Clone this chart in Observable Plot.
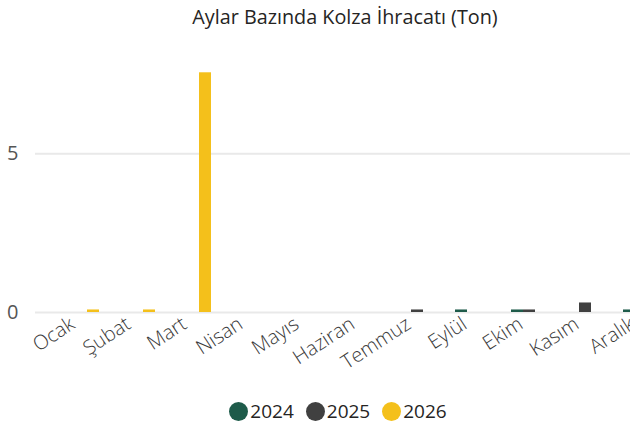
<!DOCTYPE html>
<html><head><meta charset="utf-8">
<script src="https://cdn.jsdelivr.net/npm/d3@7"></script>
<script src="https://cdn.jsdelivr.net/npm/@observablehq/plot@0.6"></script>
<style>
html,body{margin:0;padding:0;background:#fff;overflow:hidden;width:630px;height:426px;}
#wrap{width:690px;font-family:"Open Sans","Noto Sans",sans-serif;}
#title{height:34px;line-height:34px;text-align:center;font-size:19.8px;color:#252423;}
#chart{position:relative;width:690px;height:360px;}
#chart svg{position:absolute;left:0;top:0;}
#legend{display:flex;justify-content:center;align-items:center;height:34px;font-size:19px;color:#252423;padding-right:14px;}
.item{display:flex;align-items:center;margin:0 6px;}
.dot{width:19px;height:19px;border-radius:50%;margin-right:2px;}
</style></head>
<body>
<div id="wrap">
<div id="title">Aylar Bazında Kolza İhracatı (Ton)</div>
<div id="chart"></div>
<div id="legend"></div>
</div>
<script>
const months = ["Ocak","Şubat","Mart","Nisan","Mayıs","Haziran","Temmuz","Eylül","Ekim","Kasım","Aralık"];
const years = ["2024","2025","2026"];
const colors = ["#1E5B4A","#404040","#F4C01B"];
const values2024 = [null,null,null,null,null,null,null,0.08,0.08,null,0.08];
const values2025 = [null,null,null,null,null,null,0.08,null,0.08,0.3,null];
const values2026 = [0.08,0.08,7.55,null,null,null,null,null,null,null,null];
const yTicks = [0,5];

const series = [values2024, values2025, values2026];
const data = [];
years.forEach((yr, i) => months.forEach((m, j) => {
  const v = series[i][j];
  if (v != null) data.push({month: m, year: yr, value: v});
}));

const common = {
  width: 690, height: 360,
  marginLeft: 35, marginRight: 16, marginTop: 24, marginBottom: 82,
  y: {domain: [0, 8], axis: null}
};
const font = "'Open Sans','Noto Sans',sans-serif";

// background: y grid and tick labels
const gridPlot = Plot.plot({
  ...common,
  style: {fontFamily: font, background: "transparent"},
  x: {axis: null},
  marks: [
    Plot.ruleY(yTicks, {stroke: "#e9e9e9", strokeWidth: 2}),
    Plot.text(yTicks, {y: d => d, text: d => String(d), frameAnchor: "left", textAnchor: "end", dx: -17, fontSize: 20, fill: "#555"})
  ]
});

// bars + month labels
const barPlot = Plot.plot({
  ...common,
  style: {fontFamily: font, color: "#444", background: "transparent"},
  fx: {domain: months, range: [48, 674], padding: 0, label: null, axis: null},
  x: {domain: years, paddingInner: 0, paddingOuter: 0.69, axis: null},
  color: {domain: years, range: colors},
  marks: [
    Plot.barY(data, {fx: "month", x: "year", y: "value", fill: "year"}),
    Plot.text(months, {fx: d => d, text: d => d, frameAnchor: "bottom", rotate: -33, textAnchor: "end", lineAnchor: "top", dy: 3, dx: -13, fontSize: 20, fontWeight: 300, fill: "#3a3a3a"})
  ]
});
const chartDiv = document.getElementById("chart");
chartDiv.appendChild(gridPlot);
chartDiv.appendChild(barPlot);

const legend = document.getElementById("legend");
years.forEach((yr, i) => {
  const it = document.createElement("div"); it.className = "item";
  const dot = document.createElement("span"); dot.className = "dot"; dot.style.background = colors[i];
  const t = document.createElement("span"); t.textContent = yr;
  it.appendChild(dot); it.appendChild(t); legend.appendChild(it);
});
</script>
</body></html>
